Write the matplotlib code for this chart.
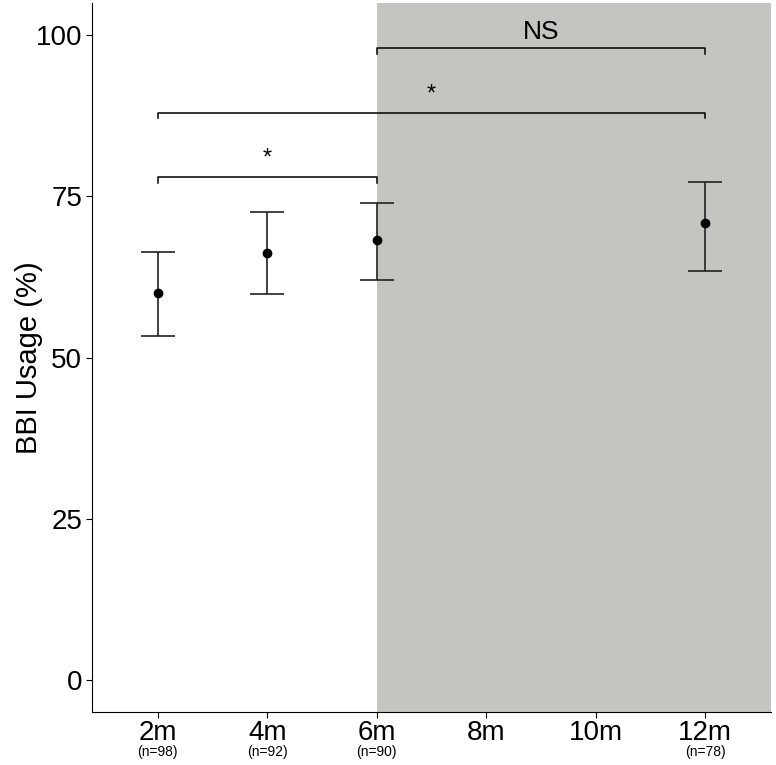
import matplotlib.pyplot as plt
from matplotlib.transforms import blended_transform_factory

plt.rcParams['font.family'] = ['Liberation Sans', 'DejaVu Sans']

# months, means and error limits
months = [2, 4, 6, 12]
usage = [60.0, 66.2, 68.3, 70.8]
lower = [53.3, 59.8, 62.1, 63.5]
upper = [66.4, 72.6, 73.9, 77.2]
n_labels = ['(n=98)', '(n=92)', '(n=90)', '(n=78)']

tick_pos = [2, 4, 6, 8, 10, 12]
tick_labels = ['2m', '4m', '6m', '8m', '10m', '12m']

# significance brackets: (start, end, height, label, label x, label y)
brackets = [
    (6, 12, 98, 'NS', 9, 100.5),
    (2, 12, 88, '*', 7, 90.8),
    (2, 6, 78, '*', 4, 80.8),
]

fig = plt.figure(figsize=(7.76, 7.65), dpi=100)
ax = fig.add_axes([0.1186, 0.0693, 0.875, 0.9267])

ax.set_xlim(0.8, 13.2)
ax.set_ylim(-5, 105)

# grey shading from 6 months onward
ax.axvspan(6, 13.2, color='#c4c5c1', zorder=0, lw=0)

yerr = [[m - lo for m, lo in zip(usage, lower)],
        [hi - m for m, hi in zip(usage, upper)]]
ax.errorbar(months, usage, yerr=yerr, fmt='o', color='black', ms=6,
            ecolor='#222222', elinewidth=1.2, capsize=12, capthick=1.2, zorder=3)

for x0, x1, h, lab, lx, ly in brackets:
    ax.plot([x0, x0, x1, x1], [h - 0.9, h, h, h - 0.9], color='black', lw=1.1)
    fs = 19 if lab == 'NS' else 17
    ax.text(lx, ly, lab, ha='center', va='center', fontsize=fs)

ax.set_xticks(tick_pos)
ax.set_xticklabels(tick_labels, fontsize=20)
ax.set_yticks([0, 25, 50, 75, 100])
ax.tick_params(axis='y', labelsize=20, length=4, pad=3)
ax.tick_params(axis='x', length=4, pad=2)
ax.set_ylabel('BBI Usage (%)', fontsize=21)
ax.yaxis.set_label_coords(-0.072, 0.5)

trans = blended_transform_factory(ax.transData, ax.transAxes)
for m, nl in zip(months, n_labels):
    ax.text(m, -0.057, nl, transform=trans, ha='center', va='center', fontsize=10)

ax.spines['top'].set_visible(False)
ax.spines['right'].set_visible(False)

fig.savefig('out.png', dpi=100)
